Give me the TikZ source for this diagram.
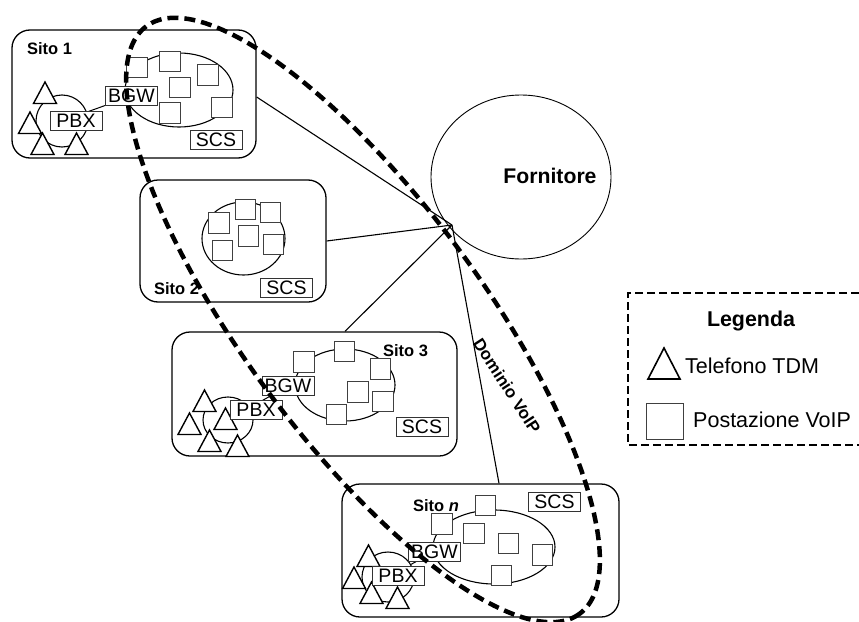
\documentclass[tikz,border=0pt]{standalone}
\usepackage{fontspec}
\setmainfont{Liberation Sans}
\usetikzlibrary{shapes.geometric}
\begin{document}
\begin{tikzpicture}[x=1pt,y=-1pt,
  site/.style={draw, line width=1.3pt, rounded corners=18pt, fill=white, inner sep=0pt},
  lbl/.style={draw=black!80, fill=white, line width=1pt, inner sep=0pt, minimum width=52pt, minimum height=19pt, font=\fontsize{19.5}{19.5}\selectfont},
  voip/.style={draw=black!75, fill=white, line width=1pt, minimum size=20.5pt, inner sep=0pt},
  net/.style={draw, ellipse, line width=1.1pt, inner sep=0pt},
  sitolbl/.style={font=\bfseries\fontsize{16.5}{16.5}\selectfont, inner sep=0pt},
  link/.style={line width=1.1pt},
  dom/.style={line width=4.5pt, dash pattern=on 11pt off 6pt},
  legtext/.style={anchor=west, inner sep=0pt, font=\fontsize{21.5}{21.5}\selectfont},
  tdm/.pic={\draw[fill=white, line width=1.4pt, line join=miter] (0,0) -- (11.5,21.5) -- (-11.5,21.5) -- cycle;}
]
\useasboundingbox (0,0) rectangle (859,621);

% Fornitore
\node[net, line width=0.9pt, minimum width=180pt, minimum height=164pt] (forn) at (521,177) {};
\node[font=\bfseries\fontsize{21.2}{21.2}\selectfont, inner sep=0pt] (fornt) at (550,176) {Fornitore};
\coordinate (hub) at (452,225);

% Sites
\node[site, minimum width=244pt, minimum height=128pt] (s1) at (134,94) {};
\node[site, minimum width=186pt, minimum height=122pt] (s2) at (233,241) {};
\node[site, minimum width=285pt, minimum height=124pt] (s3) at (314.5,394) {};
\node[site, minimum width=277pt, minimum height=133pt] (sn) at (480.5,550.5) {};

% links to provider
\draw[link] ([yshift=-3pt]s1.east) -- (hub);
\draw[link] (s2.east) -- (hub);
\draw[link] ([xshift=30.5pt]s3.north) -- (hub);
\draw[link] ([xshift=18.5pt]sn.north) -- (hub);

% Site labels
\node[sitolbl] (l1) at (49.5,49) {Sito 1};
\node[sitolbl] (l2) at (176.5,288.5) {Sito 2};
\node[sitolbl] (l3) at (405.5,351) {Sito 3};
\node[sitolbl] (ln) at (436,506) {Sito \textit{n}};

% VoIP networks
\node[net, minimum width=108pt, minimum height=74pt] (v1) at (179,90) {};
\node[net, minimum width=83pt, minimum height=73pt] (v2) at (243.5,238.5) {};
\node[net, minimum width=100pt, minimum height=72pt] (v3) at (345,385) {};
\node[net, minimum width=122pt, minimum height=74pt] (vn) at (494,547) {};

% PBX rings
\node[net, minimum width=52pt, minimum height=52pt] (r1) at (62,121) {};
\node[net, minimum width=50pt, minimum height=46pt] (r3) at (228,420) {};
\node[net, minimum width=52pt, minimum height=50pt] (rn) at (388,577) {};

% VoIP stations
\foreach \n/\p in {a/{137,67.5}, b/{170,61.5}, c/{208,75}, d/{180,87.5}, e/{170,113}, f/{222,107.5}}
  \node[voip] (q1\n) at (\p) {};
\foreach \n/\p in {a/{219,223}, b/{245.5,209.5}, c/{270.5,212.5}, d/{248.5,236}, e/{273.5,244.5}, f/{222.5,250.5}}
  \node[voip] (q2\n) at (\p) {};
\foreach \n/\p in {a/{304,362}, b/{344.5,351.5}, c/{380.5,369}, d/{358,392}, e/{383,401.5}, f/{336.5,414.5}}
  \node[voip] (q3\n) at (\p) {};
\foreach \n/\p in {a/{442,524}, b/{485.5,505.5}, c/{474,533.5}, d/{508.5,543.5}, e/{542.5,555}, f/{501.5,575.5}}
  \node[voip] (qn\n) at (\p) {};

% TDM phones
\pic (t1a) at (45,82) {tdm};
\pic (t1b) at (30,112) {tdm};
\pic (t1c) at (42.5,133) {tdm};
\pic (t1d) at (76.5,133) {tdm};
\pic (t3a) at (204.5,390) {tdm};
\pic (t3b) at (189.5,413) {tdm};
\pic (t3c) at (225.5,408) {tdm};
\pic (t3d) at (209.5,430) {tdm};
\pic (t3e) at (237.5,435) {tdm};
\pic (tna) at (368.5,545) {tdm};
\pic (tnb) at (354,567) {tdm};
\pic (tnc) at (371.5,582) {tdm};
\pic (tnd) at (397.5,587) {tdm};

% ring to BGW links
\draw[link, line width=1pt] (r1) -- (131.5,96) coordinate (b1c);
\draw[link, line width=1pt] (r3) -- (288,386) coordinate (b3c);
\draw[link, line width=1pt] (rn) -- (434.5,551.5) coordinate (bnc);

% labelled boxes
\node[lbl] (pbx1) at (76,121) {PBX};
\node[lbl] (bgw1) at (b1c) {BGW};
\node[lbl] (scs1) at (216,140) {SCS};
\node[lbl] (scs2) at (286.5,287.5) {SCS};
\node[lbl] (pbx3) at (256,410) {PBX};
\node[lbl] (bgw3) at (b3c) {BGW};
\node[lbl] (scs3) at (422,427) {SCS};
\node[lbl] (pbxn) at (398,576) {PBX};
\node[lbl] (bgwn) at (bnc) {BGW};
\node[lbl] (scsn) at (554.5,502) {SCS};

% VoIP domain
\coordinate (dc) at (363,320);
\draw[dom, rotate around={-53.6:(dc)}] (dc) ellipse [x radius=365, y radius=119];
\node[rotate=-57, font=\bfseries\fontsize{16.9}{16.9}\selectfont, inner sep=0pt] (domt) at (507,386) {Dominio VoIP};

% Legend
\draw[line width=2.5pt, dash pattern=on 8pt off 4pt] (859,293) -- (628,293) -- (628,445) -- (859,445);
\node[font=\bfseries\fontsize{21.4}{21.4}\selectfont, inner sep=0pt] (leg) at (751,321) {Legenda};
\draw[fill=white, line width=1.6pt, line join=miter] (664,348) -- (680,379) -- (648,379) -- cycle;
\node[legtext] (ltdm) at (685,366) {Telefono TDM};
\node[voip, minimum width=37pt, minimum height=36pt] (lsq) at (664.5,421) {};
\node[legtext] (lvoip) at (693,420) {Postazione VoIP};
\end{tikzpicture}
\end{document}
